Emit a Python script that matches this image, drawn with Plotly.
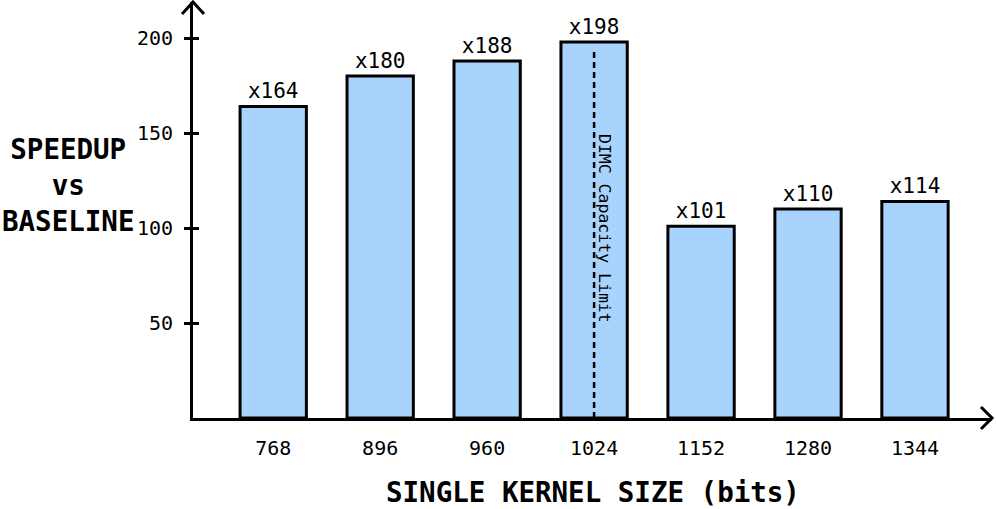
import plotly.graph_objects as go

kernel_sizes = ['768', '896', '960', '1024', '1152', '1280', '1344']
speedup = [164, 180, 188, 198, 101, 110, 114]
speedup_labels = ['x164', 'x180', 'x188', 'x198', 'x101', 'x110', 'x114']
y_ticks = [50, 100, 150, 200]

FONT = 'DejaVu Sans Mono'

fig = go.Figure(
    go.Bar(
        x=kernel_sizes, y=speedup, text=speedup_labels,
        textposition='outside', cliponaxis=False,
        textfont=dict(family=FONT, size=21, color='black'),
        marker=dict(color='#a8d3fc', line=dict(color='black', width=3)),
        width=0.62,
    )
)
# empty trace on a twin y axis, only to draw the inner half of the ticks
fig.add_trace(go.Scatter(x=[None], y=[None], yaxis='y2', showlegend=False))

# capacity limit marker inside the 1024 bar
fig.add_shape(type='line', xref='x', yref='y', x0=3, x1=3, y0=0, y1=194,
              line=dict(color='black', width=2.5, dash='6px,4px'))
fig.add_annotation(x=3, y=100, xref='x', yref='y', text='DIMC Capacity Limit',
                   textangle=90, showarrow=False, xshift=11,
                   font=dict(family=FONT, size=16.5, color='black'))

# arrow heads on the axes
fig.add_shape(type='path', xref='paper', yref='paper', xsizemode='pixel', ysizemode='pixel',
              xanchor=0, yanchor=1, path='M -11 -12 L 0 0 L 11 -12',
              line=dict(color='black', width=3))
fig.add_shape(type='path', xref='paper', yref='paper', xsizemode='pixel', ysizemode='pixel',
              xanchor=1, yanchor=0, path='M -11 11 L 0 0 L -11 -11',
              line=dict(color='black', width=3))

# axis titles
fig.add_annotation(x=(68 - 193) / 799, y=0.56, xref='paper', yref='paper',
                   text='SPEEDUP<br>vs<br>BASELINE', showarrow=False,
                   xanchor='center', yanchor='middle',
                   font=dict(family=FONT, size=27.5, color='black', weight='bold'))
fig.add_annotation(x=0.5, y=-0.178, xref='paper', yref='paper',
                   text='SINGLE KERNEL SIZE (bits)', showarrow=False,
                   xanchor='center', yanchor='middle',
                   font=dict(family=FONT, size=27.5, color='black', weight='bold'))

fig.update_layout(
    width=996, height=509,
    margin=dict(l=193, r=4, t=2, b=91, autoexpand=False),
    plot_bgcolor='white', paper_bgcolor='white',
    showlegend=False,
    xaxis=dict(range=[-0.75, 6.72], showline=True, linecolor='black', linewidth=3,
               showgrid=False, ticks='', ticklabelstandoff=10, automargin=False,
               tickfont=dict(family=FONT, size=20, color='black')),
    yaxis=dict(range=[0, 219], showline=True, linecolor='black', linewidth=3,
               showgrid=False, zeroline=False, tickvals=y_ticks, automargin=False,
               ticks='outside', ticklen=6, tickwidth=3, tickcolor='black',
               ticklabelstandoff=7,
               tickfont=dict(family=FONT, size=20, color='black')),
    yaxis2=dict(range=[0, 219], overlaying='y', side='left', showline=False,
                showgrid=False, zeroline=False, tickvals=y_ticks, showticklabels=False,
                ticks='inside', ticklen=6, tickwidth=3, tickcolor='black',
                automargin=False),
)

# drop the default 8px page margin so the figure sits at the window's corner
fig.write_html('out.html', config={'displayModeBar': False},
               post_script="document.body.style.margin='0';")
